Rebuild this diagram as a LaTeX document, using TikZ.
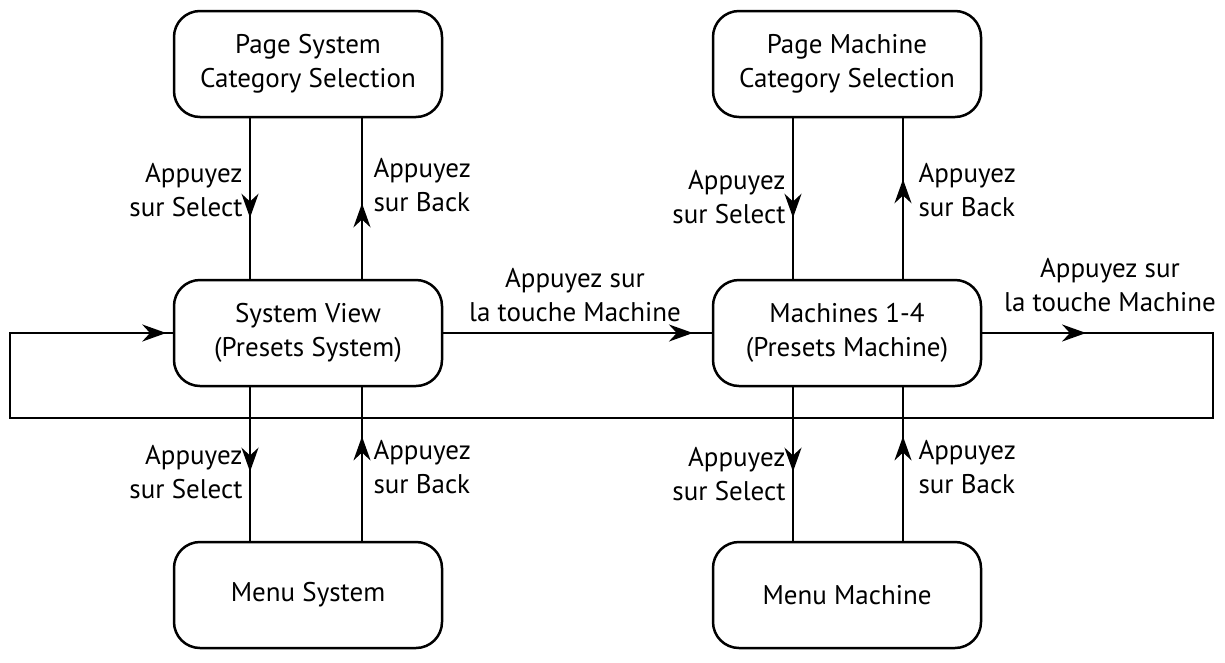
\documentclass[tikz,border=0pt]{standalone}
\usepackage{fontspec}
\setmainfont{PT Sans}
\usetikzlibrary{arrows.meta,decorations.markings}
\begin{document}
\begin{tikzpicture}[x=1pt,y=-1pt,
  box/.style={draw,line width=2.5pt,rounded corners=26pt,minimum width=268pt,minimum height=106pt,align=center,font=\fontsize{27}{34}\selectfont},
  lbl/.style={font=\fontsize{27}{34}\selectfont},
  ln/.style={line width=2.5pt},
  mid/.style={postaction={decorate},decoration={markings,mark=at position #1 with {\arrow{Stealth[length=24pt,width=17pt]}}}}]
\useasboundingbox (0,0) rectangle (1225,662);
\node[box] (tl) at (308,64) {Page System\\Category Selection};
\node[box] (tr) at (847,64) {Page Machine\\Category Selection};
\node[box] (ml) at (308,333) {System View\\(Presets System)};
\node[box] (mr) at (847,333) {Machines 1-4\\(Presets Machine)};
\node[box] (bl) at (308,595) {Menu System};
\node[box] (br) at (847,595) {Menu Machine};
% vertical connectors
\draw[ln,mid=0.62] (tl.south-|250,0) -- (ml.north-|250,0);
\draw[ln,mid=0.47] (ml.north-|362,0) -- (tl.south-|362,0);
\draw[ln,mid=0.62] (tr.south-|793,0) -- (mr.north-|793,0);
\draw[ln,mid=0.62] (mr.north-|903,0) -- (tr.south-|903,0);
\draw[ln,mid=0.55] (ml.south-|250,0) -- (bl.north-|250,0);
\draw[ln,mid=0.68] (bl.north-|362,0) -- (ml.south-|362,0);
\draw[ln,mid=0.55] (mr.south-|793,0) -- (br.north-|793,0);
\draw[ln,mid=0.68] (br.north-|903,0) -- (mr.south-|903,0);
% horizontal
\draw[ln,mid=0.93] (ml.east) -- (mr.west);
\coordinate (c1) at (1213,333);
\coordinate (c2) at (1213,418);
\coordinate (c3) at (10,418);
\coordinate (c4) at (10,333);
\draw[ln] (mr.east) -- (c1) -- (c2) -- (c3) -- (c4) -- (ml.west);
\draw[ln,mid=0.45] (mr.east) -- (c1);
\draw[ln,mid=0.96] (c4) -- (ml.west);
% labels
\node[lbl,align=right,anchor=east] at (246,190) {Appuyez\\sur Select};
\node[lbl,align=left,anchor=west] at (370,185) {Appuyez\\sur Back};
\node[lbl,align=right,anchor=east] at (789,197) {Appuyez\\sur Select};
\node[lbl,align=left,anchor=west] at (915,190) {Appuyez\\sur Back};
\node[lbl,align=right,anchor=east] at (246,472) {Appuyez\\sur Select};
\node[lbl,align=left,anchor=west] at (370,467) {Appuyez\\sur Back};
\node[lbl,align=right,anchor=east] at (789,474) {Appuyez\\sur Select};
\node[lbl,align=left,anchor=west] at (915,467) {Appuyez\\sur Back};
\node[lbl,align=center] at (575,295) {Appuyez sur\\la touche Machine};
\node[lbl,align=center] at (1110,285) {Appuyez sur\\la touche Machine};
\end{tikzpicture}
\end{document}
